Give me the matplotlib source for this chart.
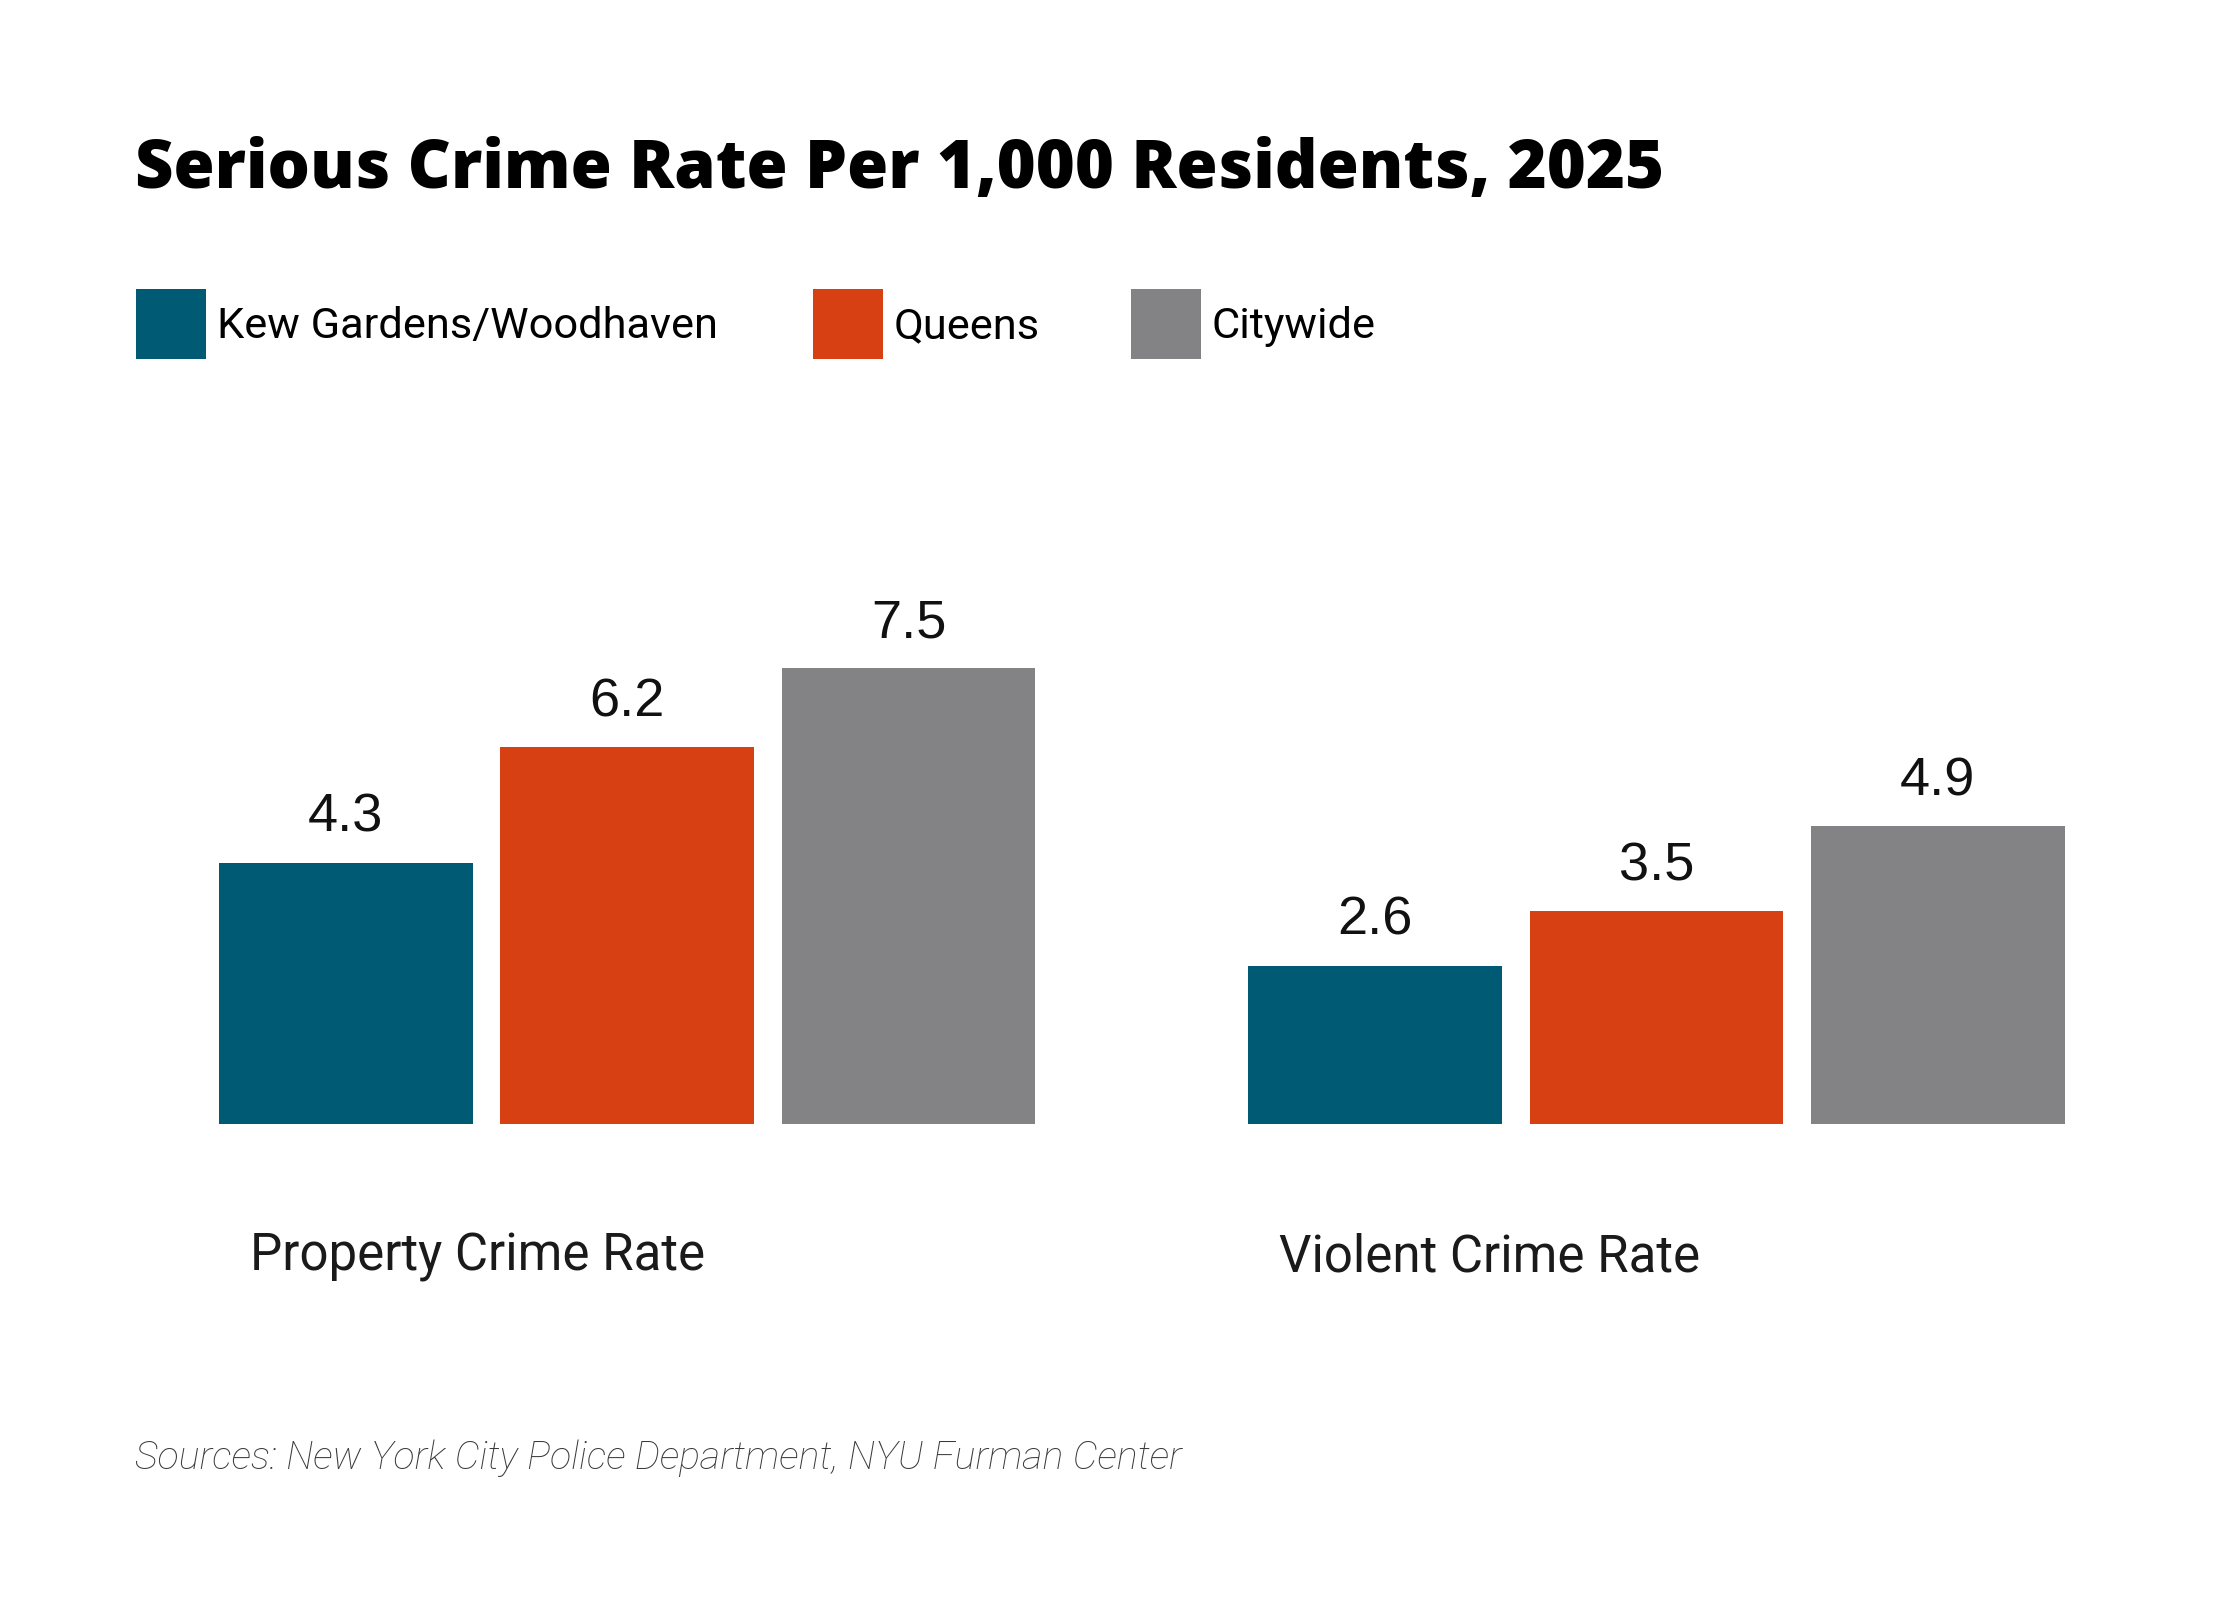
import matplotlib.pyplot as plt
from matplotlib.patches import Rectangle

# data
categories = ["Property Crime Rate", "Violent Crime Rate"]
series_names = ["Kew Gardens/Woodhaven", "Queens", "Citywide"]
kew_gardens = [4.3, 2.6]
queens = [6.2, 3.5]
citywide = [7.5, 4.9]
colors = ["#005A73", "#D64013", "#838385"]

W, H = 2240, 1600
fig = plt.figure(figsize=(W / 100, H / 100), dpi=100)
fig.patch.set_facecolor("white")


def fx(px):
    return px / W


def fy(py):
    return 1 - py / H


# axes covering the whole figure, scaled so bars land where they should
ax = fig.add_axes([0, 0, 1, 1])
unit_x = 1029.3
unit_y = 60.8
x0 = 627.1
ax.set_xlim(-x0 / unit_x, (W - x0) / unit_x)
ax.set_ylim(-(H - 1124) / unit_y, 1124 / unit_y)
ax.axis("off")

bar_w = 253.6 / unit_x
step = 281.4 / unit_x
values = [kew_gardens, queens, citywide]
for i, vals in enumerate(values):
    xs = [g + (i - 1) * step for g in range(len(categories))]
    ax.bar(xs, vals, width=bar_w, color=colors[i], linewidth=0)
    for x, v in zip(xs, vals):
        ax.annotate(f"{v:.1f}", xy=(x, v), xytext=(0, 31 * 0.72),
                    textcoords="offset points", ha="center", va="baseline",
                    fontsize=39, family="Liberation Sans", color="#111111")

for g, cat in enumerate(categories):
    left = g - step - bar_w / 2
    ax.annotate(cat, xy=(left, 0), xytext=(31 * 0.72, -147 * 0.72),
                textcoords="offset points", ha="left", va="baseline",
                fontsize=36.7, family="Roboto", color="#1a1a1a")

# title
fig.text(fx(135), fy(188), "Serious Crime Rate Per 1,000 Residents, 2025",
         fontsize=48.1, fontweight="heavy", family="Open Sans", color="black",
         ha="left", va="baseline")

# legend
box_x = [136, 813, 1131]
for bx, name, c in zip(box_x, series_names, colors):
    fig.add_artist(Rectangle((fx(bx), fy(359)), fx(70), 70 / H,
                             transform=fig.transFigure, facecolor=c,
                             linewidth=0))
    fig.text(fx(bx + 81), fy(338), name, fontsize=31.2, family="Roboto",
             color="black", ha="left", va="baseline")

# source note
fig.text(fx(135), fy(1469),
         "Sources: New York City Police Department, NYU Furman Center",
         fontsize=28.4, family="Roboto", fontweight="light", style="italic",
         color="#3a3a3a", ha="left", va="baseline")

fig.savefig("out.png", dpi=100, facecolor="white")
